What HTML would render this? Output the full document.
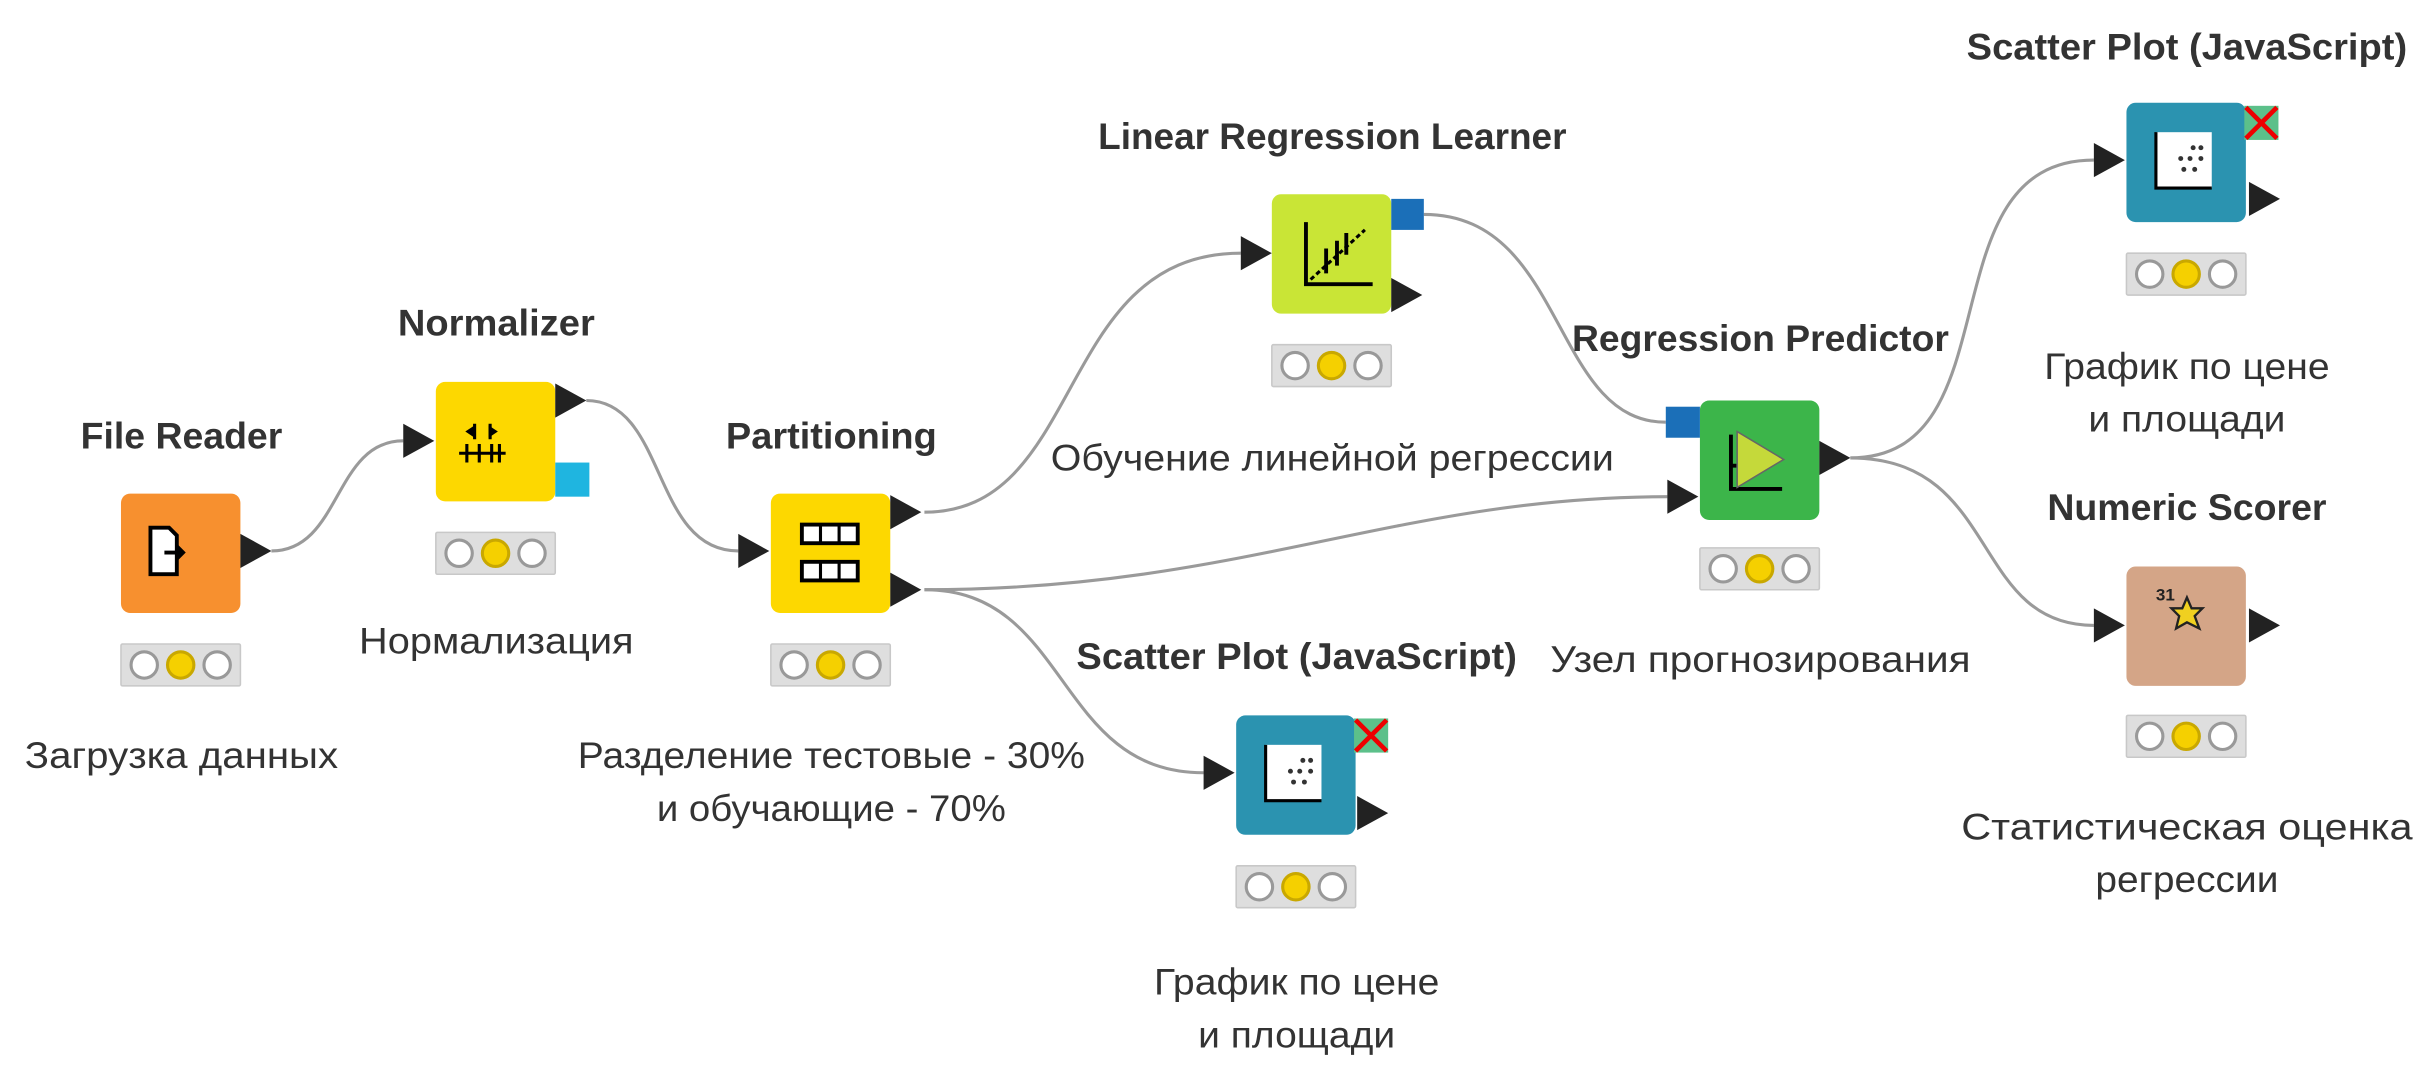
<!DOCTYPE html>
<html><head><meta charset="utf-8"><style>
html,body{margin:0;padding:0;background:#fff;}
svg{display:block;}
.t{font-family:"Liberation Sans",sans-serif;font-weight:bold;font-size:24px;fill:#333;text-anchor:middle;}
.l{font-family:"Liberation Sans","Noto Sans CJK SC",sans-serif;font-size:24px;fill:#333;text-anchor:middle;}
.c{fill:none;stroke:#9a9a9a;stroke-width:2;}
</style></head><body>
<svg width="2432" height="1074" viewBox="0 0 1568 692" xmlns="http://www.w3.org/2000/svg">
<defs>
<g id="lights">
<rect x="0" y="0" width="77" height="27" fill="#dedede" stroke="#c8c8c8" rx="1"/>
<circle cx="15" cy="13.5" r="8.5" fill="#fff" stroke="#999" stroke-width="2"/>
<circle cx="38.5" cy="13.5" r="8.5" fill="#f5d000" stroke="#c9a800" stroke-width="2"/>
<circle cx="62" cy="13.5" r="8.5" fill="#fff" stroke="#999" stroke-width="2"/>
</g>
<path id="tri" d="M0,-11 L20,0 L0,11 Z" fill="#222"/>
</defs>

<path class="c" d="M175,355 C220,355 215,284 260,284"/>
<path class="c" d="M378,258 C430,258 420,355 476,355"/>
<path class="c" d="M596,330 C700,330 680,163 800,163"/>
<path class="c" d="M596,380 C800,380 900,320 1075,320"/>
<path class="c" d="M596,380 C690,380 680,498 776,498"/>
<path class="c" d="M918,138 C1010,138 1000,272 1074,272"/>
<path class="c" d="M1193,295 C1300,295 1240,103 1350,103"/>
<path class="c" d="M1193,295 C1290,295 1270,403 1350,403"/>

<!-- File Reader -->
<text class="t" x="117" y="289" textLength="130" lengthAdjust="spacingAndGlyphs">File Reader</text>
<rect x="78" y="318" width="77" height="77" rx="6" fill="#f7902f"/>
<path d="M97,340 h12 l5,5 v25 h-17 Z" fill="#fff" stroke="#000" stroke-width="2.5"/>
<path d="M106,356 h12 m-4,-4 l4,4 l-4,4" stroke="#000" stroke-width="2.5" fill="none"/>
<use href="#tri" x="155" y="355"/>
<use href="#lights" x="78" y="415"/>
<text class="l" x="117" y="495" textLength="202" lengthAdjust="spacingAndGlyphs">Загрузка данных</text>

<!-- Normalizer -->
<text class="t" x="320" y="216" textLength="127" lengthAdjust="spacingAndGlyphs">Normalizer</text>
<rect x="281" y="246" width="77" height="77" rx="6" fill="#fdd800"/>
<path d="M296,292 h30 M301,286 v12 M309,286 v12 M317,286 v12 M322,286 v12 M306,273 v10 M316,273 v10" stroke="#000" stroke-width="2"/>
<path d="M300,278 l6,-4 v8 Z M321,278 l-6,-4 v8 Z" fill="#000"/>
<use href="#tri" x="260" y="284"/>
<use href="#tri" x="358" y="258"/>
<rect x="358" y="298" width="22" height="22" fill="#1fb5e0"/>
<use href="#lights" x="281" y="343"/>
<text class="l" x="320" y="421" textLength="177" lengthAdjust="spacingAndGlyphs">Нормализация</text>

<!-- Partitioning -->
<text class="t" x="536" y="289" textLength="136" lengthAdjust="spacingAndGlyphs">Partitioning</text>
<rect x="497" y="318" width="77" height="77" rx="6" fill="#fdd800"/>
<rect x="517" y="338" width="36" height="12" fill="#fff" stroke="#000" stroke-width="2.5"/>
<path d="M529,338 v12 M541,338 v12" stroke="#000" stroke-width="2"/>
<rect x="517" y="362" width="36" height="12" fill="#fff" stroke="#000" stroke-width="2.5"/>
<path d="M529,362 v12 M541,362 v12" stroke="#000" stroke-width="2"/>
<use href="#tri" x="476" y="355"/>
<use href="#tri" x="574" y="330"/>
<use href="#tri" x="574" y="380"/>
<use href="#lights" x="497" y="415"/>
<text class="l" x="536" y="495" textLength="327" lengthAdjust="spacingAndGlyphs">Разделение тестовые - 30%</text>
<text class="l" x="536" y="529" textLength="225" lengthAdjust="spacingAndGlyphs">и обучающие - 70%</text>

<!-- Linear Regression Learner -->
<text class="t" x="859" y="96" textLength="302" lengthAdjust="spacingAndGlyphs">Linear Regression Learner</text>
<rect x="820" y="125" width="77" height="77" rx="6" fill="#c9e536"/>
<path d="M842,143 v40 h43" stroke="#000" stroke-width="2.5" fill="none"/>
<path d="M845,180 l35,-32" stroke="#000" stroke-width="2" stroke-dasharray="3,2"/>
<path d="M855,160 v16 M862,155 v16 M868,150 v14" stroke="#000" stroke-width="2.5"/>
<use href="#tri" x="800" y="163"/>
<use href="#tri" x="897" y="190"/>
<rect x="897" y="128" width="21" height="20" fill="#1b6fb8"/>
<use href="#lights" x="820" y="222"/>
<text class="l" x="859" y="303" textLength="363" lengthAdjust="spacingAndGlyphs">Обучение линейной регрессии</text>

<!-- Regression Predictor -->
<text class="t" x="1135" y="226" textLength="243" lengthAdjust="spacingAndGlyphs">Regression Predictor</text>
<rect x="1096" y="258" width="77" height="77" rx="6" fill="#3cb54a"/>
<path d="M1116,280 v35 h33 M1116,300 h15" stroke="#000" stroke-width="2.5" fill="none"/>
<path d="M1120,278 L1150,296 L1120,314 Z" fill="#c5d93a" stroke="#666" stroke-width="1"/>
<use href="#tri" x="1075" y="320"/>
<use href="#tri" x="1173" y="295"/>
<rect x="1074" y="262" width="22" height="20" fill="#1b6fb8"/>
<use href="#lights" x="1096" y="353"/>
<text class="l" x="1135" y="433" textLength="271" lengthAdjust="spacingAndGlyphs">Узел прогнозирования</text>

<!-- Scatter bottom -->
<text class="t" x="836" y="431" textLength="284" lengthAdjust="spacingAndGlyphs">Scatter Plot (JavaScript)</text>
<rect x="797" y="461" width="77" height="77" rx="6" fill="#2b93b0"/>
<rect x="816" y="480" width="36" height="36" fill="#fff"/>
<path d="M816,480 v36 h36" stroke="#000" stroke-width="2" fill="none"/>
<g fill="#333"><circle cx="840" cy="490" r="1.6"/><circle cx="845" cy="490" r="1.6"/><circle cx="832" cy="497" r="1.6"/><circle cx="838" cy="497" r="1.6"/><circle cx="845" cy="497" r="1.6"/><circle cx="834" cy="504" r="1.6"/><circle cx="841" cy="504" r="1.6"/></g>
<rect x="873" y="463" width="22" height="22" fill="#5cc08a"/>
<path d="M874,464 l20,20 M894,464 l-20,20" stroke="#e00" stroke-width="3"/>
<use href="#tri" x="776" y="498"/>
<use href="#tri" x="875" y="524"/>
<use href="#lights" x="797" y="558"/>
<text class="l" x="836" y="641" textLength="184" lengthAdjust="spacingAndGlyphs">График по цене</text>
<text class="l" x="836" y="675" textLength="127" lengthAdjust="spacingAndGlyphs">и площади</text>

<!-- Scatter top -->
<text class="t" x="1410" y="38" textLength="284" lengthAdjust="spacingAndGlyphs">Scatter Plot (JavaScript)</text>
<rect x="1371" y="66" width="77" height="77" rx="6" fill="#2b93b0"/>
<rect x="1390" y="85" width="36" height="36" fill="#fff"/>
<path d="M1390,85 v36 h36" stroke="#000" stroke-width="2" fill="none"/>
<g fill="#333"><circle cx="1414" cy="95" r="1.6"/><circle cx="1419" cy="95" r="1.6"/><circle cx="1406" cy="102" r="1.6"/><circle cx="1412" cy="102" r="1.6"/><circle cx="1419" cy="102" r="1.6"/><circle cx="1408" cy="109" r="1.6"/><circle cx="1415" cy="109" r="1.6"/></g>
<rect x="1447" y="68" width="22" height="22" fill="#5cc08a"/>
<path d="M1448,69 l20,20 M1468,69 l-20,20" stroke="#e00" stroke-width="3"/>
<use href="#tri" x="1350" y="103"/>
<use href="#tri" x="1450" y="128"/>
<use href="#lights" x="1371" y="163"/>
<text class="l" x="1410" y="244" textLength="184" lengthAdjust="spacingAndGlyphs">График по цене</text>
<text class="l" x="1410" y="278" textLength="127" lengthAdjust="spacingAndGlyphs">и площади</text>

<!-- Numeric Scorer -->
<text class="t" x="1410" y="335" textLength="180" lengthAdjust="spacingAndGlyphs">Numeric Scorer</text>
<rect x="1371" y="365" width="77" height="77" rx="6" fill="#d4a587"/>
<text x="1390" y="387" font-family="Liberation Sans" font-size="11" font-weight="bold" fill="#222">31</text>
<path d="M1410,385 l3,7 l7,0 l-5,5 l3,8 l-8,-4 l-7,4 l2,-8 l-5,-5 l7,0 Z" fill="#f0d020" stroke="#222" stroke-width="1.5"/>
<use href="#tri" x="1350" y="403"/>
<use href="#tri" x="1450" y="403"/>
<use href="#lights" x="1371" y="461"/>
<text class="l" x="1410" y="541" textLength="291" lengthAdjust="spacingAndGlyphs">Статистическая оценка</text>
<text class="l" x="1410" y="575" textLength="118" lengthAdjust="spacingAndGlyphs">регрессии</text>
</svg>
</body></html>
